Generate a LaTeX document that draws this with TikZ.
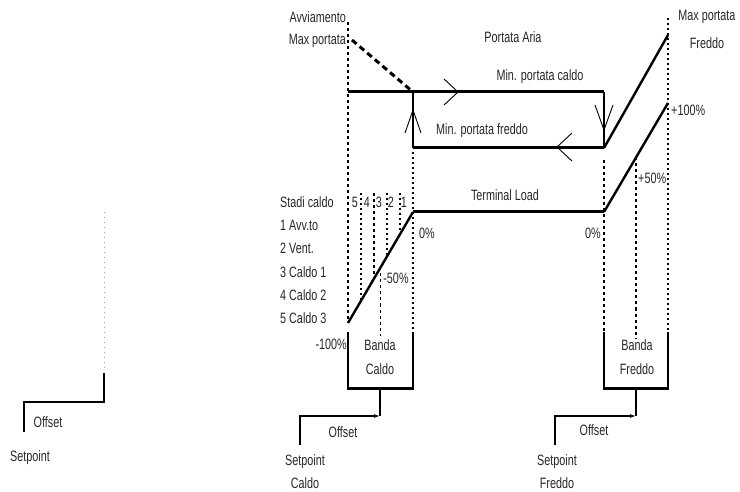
\documentclass[tikz,border=0pt]{standalone}
\usepackage{fontspec}
\setmainfont{Liberation Sans}[FakeStretch=0.72]
\usetikzlibrary{arrows.meta,calc}
\begin{document}
\begin{tikzpicture}[x=1pt,y=-1pt,
  lbl/.style={font=\fontsize{15}{16}\selectfont, inner sep=0pt, text=black!85},
  thickln/.style={line width=3pt},
  medln/.style={line width=2.4pt},
  boxln/.style={line width=1.6pt},
  dashln/.style={line width=1.1pt, dash pattern=on 3pt off 3pt},
  dotln/.style={line width=1.8pt, dash pattern=on 2pt off 3pt},
  chev/.style={line width=0.9pt},
  thinln/.style={line width=1.4pt}]
\useasboundingbox (0,0) rectangle (740,492);

% key coordinates
\coordinate (H0) at (348,323);
\coordinate (H1) at (413,212);
\coordinate (C0) at (604,212);
\coordinate (C1) at (668,103);
\coordinate (A1) at (348,92);
\coordinate (A2) at (413,92);
\coordinate (A3) at (604,92);
\coordinate (A4) at (604,148);
\coordinate (A5) at (413,148);
\coordinate (MF) at (668,35);
\coordinate (DS) at (352,40);
\coordinate (top) at (0,193);

% vertical guide lines
\draw[dashln] (348,22) -- (H0);
\draw[dotln] (413,152) -- (413,332);
\draw[dashln] (604,160) -- (604,332);
\draw[dotln] (668,18) -- (668,332);

% stage lines
\coordinate (S1) at ($(H0)!0.2!(H1)$);
\coordinate (S2) at ($(H0)!0.4!(H1)$);
\coordinate (S3) at ($(H0)!0.6!(H1)$);
\coordinate (S4) at ($(H0)!0.8!(H1)$);
\draw[dotln,line width=1.5pt] (S1 |- top) -- (S1);
\draw[dashln] (S2 |- top) -- (S2);
\draw[dotln,line width=1.5pt] (S3 |- top) -- (S3);
\draw[dotln,line width=1.5pt] (S4 |- top) -- (S4);
\coordinate (HM) at ($(H0)!0.5!(H1)$);
\coordinate (CM) at ($(C0)!0.5!(C1)$);
\draw[dashln] (HM) -- (HM |- 0,336);
\draw[dashln] (CM) -- (CM |- 0,338);

% air flow loop
\draw[thickln] (A1) -- (A3);
\draw[medln] (A3) -- (A4);
\draw[thickln] (A4) -- (A5);
\draw[medln] (A5) -- (A2);
\draw[medln] (A4) -- (MF);
\draw[thickln, dash pattern=on 6pt off 4pt] (DS) -- (A2);

% chevrons
\draw[chev] (444,79) -- (458,92) -- (444,105);
\draw[chev] (572,133) -- (557,147) -- (572,161);
\draw[chev] (595,105) -- (604,130) -- (613,105);
\draw[chev] (405,133) -- (413,110) -- (421,133);

% load line
\draw[medln] (H0) -- (H1);
\draw[thickln] (H1) -- (C0);
\draw[medln] (C0) -- (C1);

% bands
\draw[boxln] (348,332) -- (348,388);
\draw[boxln] (413,332) -- (413,388);
\draw[thickln] (347,388) -- (414,388);
\draw[boxln] (604,332) -- (604,388);
\draw[boxln] (668,332) -- (668,388);
\draw[thickln] (603,388) -- (669,388);

% offsets
\coordinate (BC) at (380,388);
\coordinate (OC) at (380,416);
\coordinate (PC) at (300,445);
\draw[thinln] (BC) -- (OC);
\draw[thinln,-{Latex[length=6pt,width=4pt]}] (PC) |- (OC);
\coordinate (BF) at (636,388);
\coordinate (OF) at (636,416);
\coordinate (PF) at (555,445);
\draw[thinln] (BF) -- (OF);
\draw[thinln,-{Latex[length=6pt,width=4pt]}] (PF) |- (OF);

% left fragment
\draw[gray!70, line width=1pt, dash pattern=on 1pt off 4pt] (104,212) -- (104,368);
\coordinate (L1) at (104,373);
\coordinate (L2) at (24,432);
\draw[thinln] (L1) -- (104,402) -| (L2);

% labels
\node[lbl, anchor=east] (avv) at (346,17) {Avviamento};
\node[lbl, anchor=east] (maxp) at (346,41) {Max portata};
\node[lbl] (pa) at (513,37) {Portata Aria};
\node[lbl] (mpc) at (540,77) {Min. portata caldo};
\node[lbl] (mpf) at (482,131) {Min. portata freddo};
\node[lbl] (mpf1) at (707,17) {Max portata};
\node[lbl] (mpf2) at (707,43) {Freddo};
\node[lbl, anchor=west] (p100) at (671,110) {+100\%};
\node[lbl, anchor=west] (p50) at (638,178) {+50\%};
\node[lbl] (tl) at (505,195) {Terminal Load};
\node[lbl] (z1) at (427,233) {0\%};
\node[lbl] (z2) at (593,233) {0\%};
\node[lbl] (m50) at (396,278) {-50\%};
\node[lbl, anchor=east] (m100) at (347,344) {-100\%};
\node[lbl, anchor=west] (st0) at (280,202) {Stadi caldo};
\node[lbl, anchor=west] (st1) at (280,225) {1 Avv.to};
\node[lbl, anchor=west] (st2) at (280,248) {2 Vent.};
\node[lbl, anchor=west] (st3) at (280,272) {3 Caldo 1};
\node[lbl, anchor=west] (st4) at (280,295) {4 Caldo 2};
\node[lbl, anchor=west] (st5) at (280,318) {5 Caldo 3};
\node[lbl] (n5) at (355,202) {5};
\node[lbl] (n4) at (367,202) {4};
\node[lbl] (n3) at (379,202) {3};
\node[lbl] (n2) at (391,202) {2};
\node[lbl] (n1) at (404,202) {1};
\node[lbl] (bc1) at (380,345) {Banda};
\node[lbl] (bc2) at (380,369) {Caldo};
\node[lbl] (bf1) at (637,345) {Banda};
\node[lbl] (bf2) at (637,369) {Freddo};
\node[lbl] (ofc) at (343,432) {Offset};
\node[lbl] (spc1) at (305,462) {Setpoint};
\node[lbl] (spc2) at (305,483) {Caldo};
\node[lbl] (off) at (594,430) {Offset};
\node[lbl] (spf1) at (557,462) {Setpoint};
\node[lbl] (spf2) at (557,483) {Freddo};
\node[lbl] (ofl) at (48,422) {Offset};
\node[lbl] (spl) at (30,458) {Setpoint};
\end{tikzpicture}
\end{document}
